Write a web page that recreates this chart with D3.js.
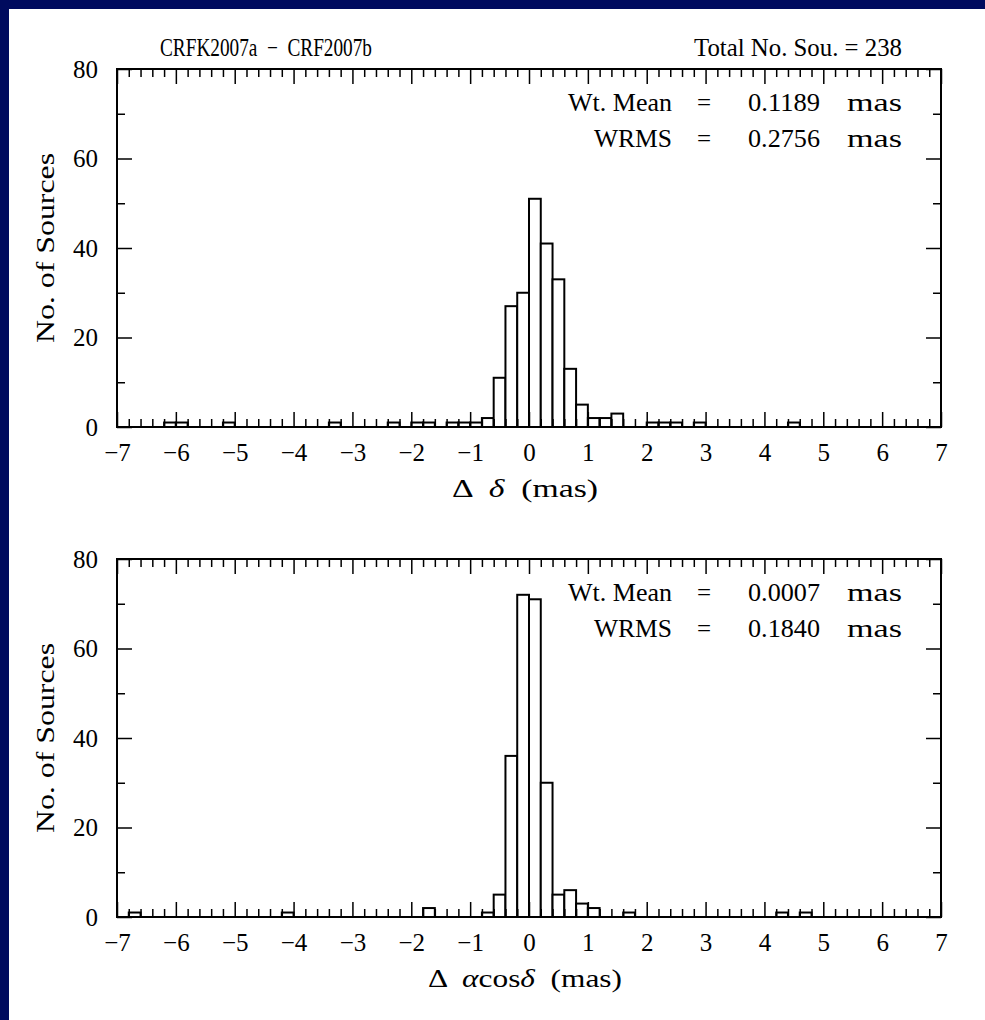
<!DOCTYPE html>
<html>
<head>
<meta charset="utf-8">
<script src="https://cdn.jsdelivr.net/npm/d3@7/dist/d3.min.js"></script>
<style>
  html, body { margin: 0; padding: 0; background: #000b5e; }
  svg { display: block; }
  text { font-family: "Liberation Serif", "DejaVu Serif", serif; fill: #000; }
</style>
</head>
<body>
<svg id="chart" width="985" height="1020"></svg>
<script>
// ---------- data ----------
const binWidth = 0.2;
const xTickValues = [-7, -6, -5, -4, -3, -2, -1, 0, 1, 2, 3, 4, 5, 6, 7];
const yTickValues = [0, 20, 40, 60, 80];
const yMinorValues = [10, 30, 50, 70];

// Panel 1: Delta delta
const decBinStart = [-6.2, -6.0, -5.2, -3.4, -2.4, -2.0, -1.8, -1.4, -1.2, -1.0, -0.8, -0.6, -0.4, -0.2, 0.0, 0.2, 0.4, 0.6, 0.8, 1.0, 1.2, 1.4, 2.0, 2.2, 2.4, 2.8, 4.4];
const decCounts   = [1, 1, 1, 1, 1, 1, 1, 1, 1, 1, 2, 11, 27, 30, 51, 41, 33, 13, 5, 2, 2, 3, 1, 1, 1, 1, 1];

// Panel 2: Delta alpha cos delta
const raBinStart = [-6.8, -4.2, -1.8, -0.8, -0.6, -0.4, -0.2, 0.0, 0.2, 0.4, 0.6, 0.8, 1.0, 1.6, 4.2, 4.6];
const raCounts   = [1, 1, 2, 1, 5, 36, 72, 71, 30, 5, 6, 3, 2, 1, 1, 1];

const titleLeft = "CRFK2007a  \u2212  CRF2007b";
const titleRight = "Total No. Sou. = 238";
const statsLabels = ["Wt. Mean", "WRMS"];
const decStats = ["0.1189", "0.2756"];
const raStats = ["0.0007", "0.1840"];

// ---------- layout ----------
const svg = d3.select("#chart");
svg.append("rect").attr("x", 9).attr("y", 9).attr("width", 976).attr("height", 1011).attr("fill", "#fff");

const left = 117, right = 941;
const panels = [
  { top: 69, bottom: 427, starts: decBinStart, counts: decCounts, stats: decStats, xlabel: "delta" },
  { top: 559, bottom: 917, starts: raBinStart, counts: raCounts, stats: raStats, xlabel: "alpha" }
];

const fs = 25;
const x = d3.scaleLinear().domain([-7, 7]).range([left, right]);
const xMinor = [];
for (const t of d3.range(-70, 71, 2)) { if (t % 10 !== 0) xMinor.push(t / 10); }

panels.forEach((p, i) => {
  const y = d3.scaleLinear().domain([0, 80]).range([p.bottom, p.top]);
  const g = svg.append("g");

  // bars
  g.selectAll("rect.bar").data(p.starts.map((s, k) => ({ s, c: p.counts[k] })))
    .join("rect").attr("class", "bar")
    .attr("x", d => x(d.s)).attr("width", d => x(d.s + binWidth) - x(d.s))
    .attr("y", d => y(d.c)).attr("height", d => y(0) - y(d.c))
    .attr("fill", "#fff").attr("stroke", "#000").attr("stroke-width", 2);

  function styleAxis(sel) {
    sel.select(".domain").remove();
    sel.selectAll(".tick line").attr("stroke", "#000").attr("stroke-width", 1.5);
    sel.selectAll(".tick text").attr("font-size", fs).attr("font-family", "Liberation Serif");
  }
  // bottom axis
  g.append("g").attr("transform", `translate(0,${p.bottom})`)
    .call(d3.axisBottom(x).tickValues(xTickValues).tickSize(-15).tickPadding(16)
      .tickFormat(d => (d < 0 ? "\u2212" : "") + Math.abs(d)))
    .call(styleAxis);
  g.append("g").attr("transform", `translate(0,${p.bottom})`)
    .call(d3.axisBottom(x).tickValues(xMinor).tickSize(-8).tickFormat(""))
    .call(styleAxis);
  // top axis
  g.append("g").attr("transform", `translate(0,${p.top})`)
    .call(d3.axisTop(x).tickValues(xTickValues).tickSize(-15).tickFormat(""))
    .call(styleAxis);
  g.append("g").attr("transform", `translate(0,${p.top})`)
    .call(d3.axisTop(x).tickValues(xMinor).tickSize(-8).tickFormat(""))
    .call(styleAxis);
  // left axis
  g.append("g").attr("transform", `translate(${left},0)`)
    .call(d3.axisLeft(y).tickValues(yTickValues).tickSize(-15).tickPadding(19))
    .call(styleAxis);
  g.append("g").attr("transform", `translate(${left},0)`)
    .call(d3.axisLeft(y).tickValues(yMinorValues).tickSize(-8).tickFormat(""))
    .call(styleAxis);
  // right axis
  g.append("g").attr("transform", `translate(${right},0)`)
    .call(d3.axisRight(y).tickValues(yTickValues).tickSize(-15).tickFormat(""))
    .call(styleAxis);
  g.append("g").attr("transform", `translate(${right},0)`)
    .call(d3.axisRight(y).tickValues(yMinorValues).tickSize(-8).tickFormat(""))
    .call(styleAxis);

  // frame
  g.append("rect").attr("x", left).attr("y", p.top).attr("width", right - left).attr("height", p.bottom - p.top)
    .attr("fill", "none").attr("stroke", "#000").attr("stroke-width", 2);

  // y title
  g.append("text").attr("transform", `translate(54,${(p.top + p.bottom) / 2}) rotate(-90)`)
    .attr("text-anchor", "middle").attr("font-size", fs)
    .attr("textLength", 190).attr("lengthAdjust", "spacingAndGlyphs").text("No. of Sources");

  // x title
  const xt = g.append("text").attr("x", (left + right) / 2 - 4).attr("y", p.bottom + 70)
    .attr("text-anchor", "middle").attr("font-size", fs).style("white-space", "pre")
    .attr("lengthAdjust", "spacingAndGlyphs");
  if (p.xlabel === "delta") {
    xt.attr("textLength", 146);
    xt.append("tspan").text("\u0394  ");
    xt.append("tspan").attr("font-style", "italic").text("\u03b4");
    xt.append("tspan").text("  (mas)");
  } else {
    xt.attr("textLength", 194);
    xt.append("tspan").text("\u0394  ");
    xt.append("tspan").attr("font-style", "italic").text("\u03b1");
    xt.append("tspan").text("cos");
    xt.append("tspan").attr("font-style", "italic").text("\u03b4");
    xt.append("tspan").text("  (mas)");
  }

  // stats
  const lx = [568, 594], lw = [104, 78];
  statsLabels.forEach((lab, k) => {
    const by = p.top + 42 + k * 36;
    g.append("text").attr("x", lx[k]).attr("y", by).attr("font-size", fs)
      .attr("textLength", lw[k]).attr("lengthAdjust", "spacingAndGlyphs").text(lab);
    g.append("text").attr("x", 697).attr("y", by).attr("font-size", fs).text("=");
    g.append("text").attr("x", 748).attr("y", by).attr("font-size", fs)
      .attr("textLength", 72).attr("lengthAdjust", "spacingAndGlyphs").text(p.stats[k]);
    g.append("text").attr("x", 847).attr("y", by).attr("font-size", fs)
      .attr("textLength", 55).attr("lengthAdjust", "spacingAndGlyphs").text("mas");
  });

  if (i === 0) {
    g.append("text").attr("x", 160).attr("y", 56).attr("font-size", fs).style("white-space", "pre")
      .attr("textLength", 212).attr("lengthAdjust", "spacingAndGlyphs").text(titleLeft);
    g.append("text").attr("x", 694).attr("y", 56).attr("font-size", fs)
      .attr("textLength", 208).attr("lengthAdjust", "spacingAndGlyphs").text(titleRight);
  }
});
</script>
</body>
</html>
